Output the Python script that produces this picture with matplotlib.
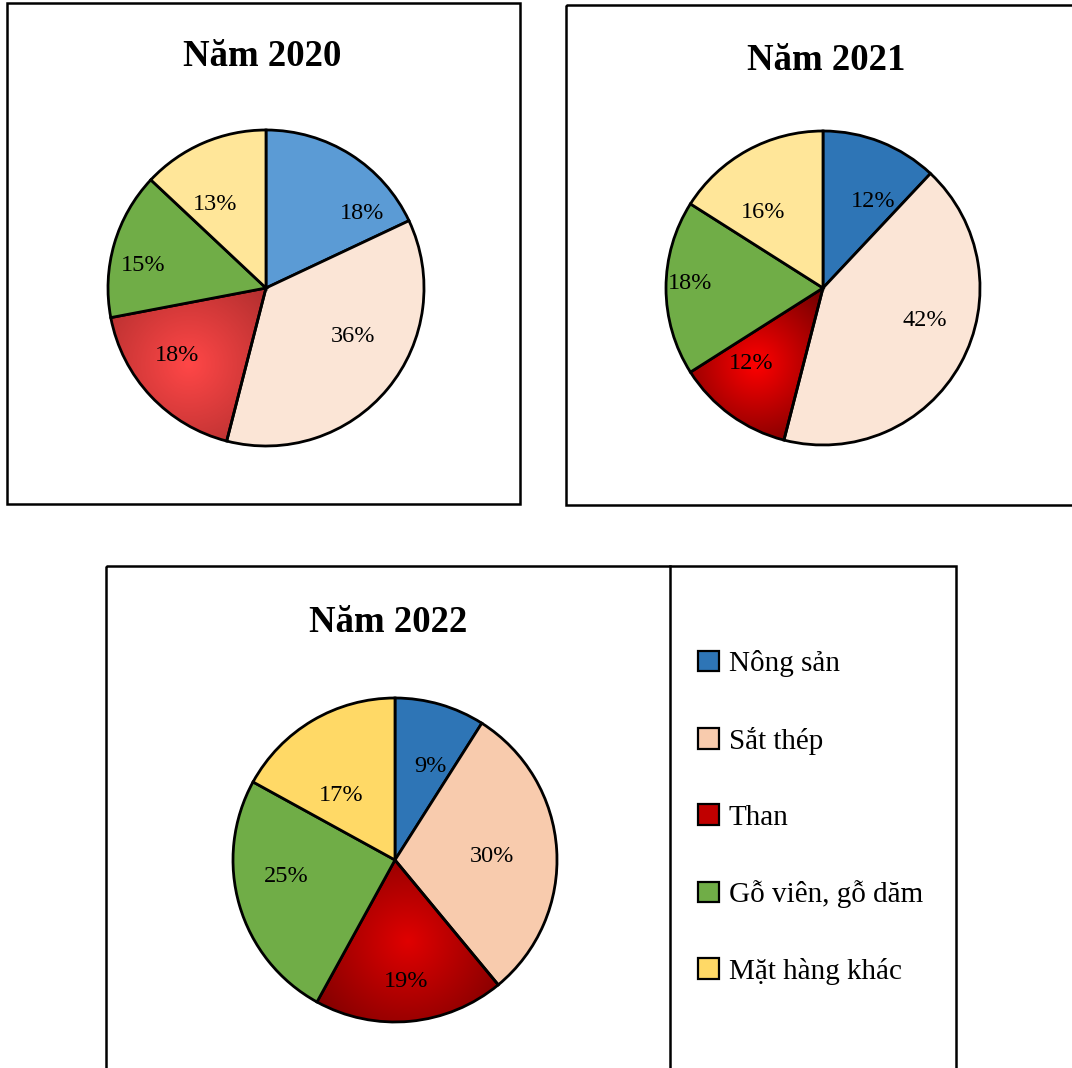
import numpy as np
import matplotlib
matplotlib.use("Agg")
import matplotlib.pyplot as plt
from matplotlib.patches import Rectangle, Patch
from matplotlib.colors import to_rgb

plt.rcParams['font.family'] = ['Liberation Serif', 'DejaVu Serif']

categories = ["Nông sản", "Sắt thép", "Than", "Gỗ viên, gỗ dăm", "Mặt hàng khác"]
years = ["Năm 2020", "Năm 2021", "Năm 2022"]
share_2020 = [18, 36, 18, 15, 13]
share_2021 = [12, 42, 12, 18, 16]
share_2022 = [9, 30, 19, 25, 17]

W, H = 1072, 1068
fig = plt.figure(figsize=(W / 100, H / 100), dpi=100)

# background axes in pixel coords for the boxes
bg = fig.add_axes([0, 0, 1, 1])
bg.set_xlim(0, W)
bg.set_ylim(H, 0)
bg.axis("off")
lw = 1.8
bg.add_patch(Rectangle((7, 3), 513, 501, fill=False, lw=lw, ec="black"))
bg.add_patch(Rectangle((566, 5), 520, 500, fill=False, lw=lw, ec="black"))
bg.add_patch(Rectangle((106, 566), 850, 520, fill=False, lw=lw, ec="black"))
bg.plot([670, 670], [566, 1080], color="black", lw=lw)

# per-pie layout: centre (px), radius (px), title position, label offsets
panels = [
    dict(vals=share_2020, cx=266, cy=288, r=158, tx=262, ty=56,
         colors=["#5B9BD5", "#FBE5D6", "none", "#70AD47", "#FFE699"],
         red=("#FF4747", "#B02E2E"),
         lab=[(0.61, 0.47), (0.55, -0.31), (-0.56, -0.43), (-0.78, 0.14), (-0.32, 0.53)]),
    dict(vals=share_2021, cx=823, cy=288, r=157, tx=826, ty=61,
         colors=["#2E75B6", "#FBE5D6", "none", "#70AD47", "#FFE699"],
         red=("#FF0000", "#6A0000"),
         lab=[(0.32, 0.55), (0.65, -0.21), (-0.46, -0.48), (-0.85, 0.03), (-0.38, 0.48)]),
    dict(vals=share_2022, cx=395, cy=860, r=162, tx=388, ty=622,
         colors=["#2E75B6", "#F8CBAD", "none", "#70AD47", "#FFD966"],
         red=("#E00000", "#780000"),
         lab=[(0.22, 0.58), (0.60, 0.02), (0.07, -0.75), (-0.67, -0.10), (-0.33, 0.40)]),
]

for title, p in zip(years, panels):
    cx, cy, r = p["cx"], p["cy"], p["r"]
    ax = fig.add_axes([(cx - r) / W, 1 - (cy + r) / H, 2 * r / W, 2 * r / H])
    wedges, _ = ax.pie(p["vals"], colors=p["colors"], startangle=90, counterclock=False,
                       wedgeprops=dict(edgecolor="black", linewidth=2.0))
    ax.set_aspect("equal")
    ax.axis("off")
    for w in wedges:
        w.set_clip_on(False)

    # radial gradient for "Than"
    rw = wedges[2]
    ext = rw.get_path().get_extents()
    gx = np.linspace(ext.x0, ext.x1, 200)
    gy = np.linspace(ext.y0, ext.y1, 200)
    X, Y = np.meshgrid(gx, gy)
    mx, my = (ext.x0 + ext.x1) / 2, (ext.y0 + ext.y1) / 2
    half = np.hypot(ext.width, ext.height) / 2
    d = np.clip(np.hypot(X - mx, Y - my) / half, 0, 1)[..., None]
    c0, c1 = np.array(to_rgb(p["red"][0])), np.array(to_rgb(p["red"][1]))
    img = c0 * (1 - d) + c1 * d
    im = ax.imshow(img, extent=(ext.x0, ext.x1, ext.y0, ext.y1), origin="lower",
                   zorder=0.5, interpolation="bilinear")
    im.set_clip_path(rw)
    ax.set_xlim(-1, 1)
    ax.set_ylim(-1, 1)

    for v, (lx, ly) in zip(p["vals"], p["lab"]):
        ax.text(lx, ly, f"{v}%", ha="center", va="center", fontsize=17.5, zorder=5)

    fig.text(p["tx"] / W, 1 - p["ty"] / H, title, ha="center", va="center",
             fontsize=26.5, fontweight="bold")

legend_colors = ["#2E75B6", "#F8CBAD", "#C00000", "#70AD47", "#FFD966"]
handles = [Patch(facecolor=c, edgecolor="black", linewidth=1.6) for c in legend_colors]
fig.legend(handles, categories, loc="upper left", bbox_to_anchor=(698 / W, 1 - 650 / H),
           frameon=False, fontsize=21, handlelength=0.72, handleheight=0.7,
           handletextpad=0.33, labelspacing=1.7, borderpad=0, borderaxespad=0)

fig.savefig("out.png", dpi=100)
